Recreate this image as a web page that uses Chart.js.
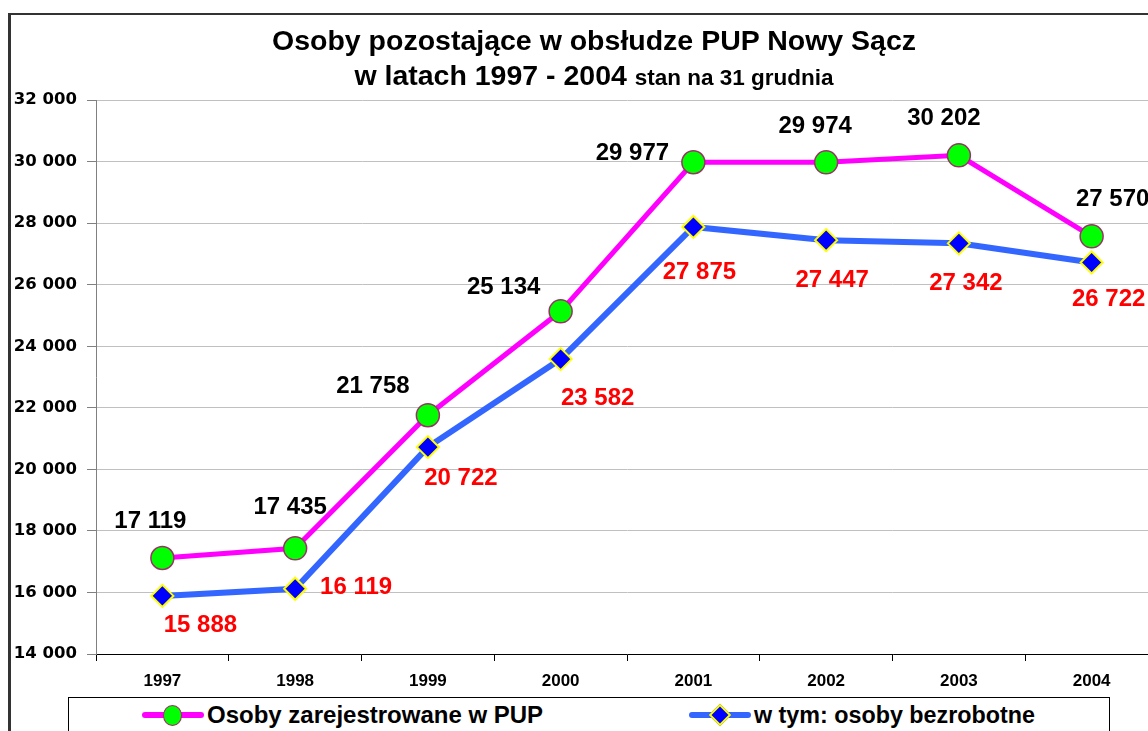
<!DOCTYPE html>
<html lang="pl">
<head>
<meta charset="utf-8">
<script src="https://cdn.jsdelivr.net/npm/chart.js@4.4.1/dist/chart.umd.min.js"></script>
<style>
  html, body { margin: 0; padding: 0; background: #fff; overflow: hidden; width: 1148px; height: 731px; }
  body { position: relative; font-family: "Liberation Sans", Arial, sans-serif; }
  #frame { position: absolute; left: 8px; top: 13px; width: 1300px; height: 900px; border-left: 3px solid #333; border-top: 2px solid #333; }
  #wrap { position: absolute; left: 0; top: 0; width: 1180px; height: 731px; }
  .title { position: absolute; left: 594px; transform: translateX(-50%); white-space: nowrap; font-weight: bold; color: #000; }
  #t1 { top: 24px; font-size: 28.5px; }
  #t2 { top: 59px; font-size: 28.5px; }
  #t2 small { font-size: 22.5px; }
  #legend { position: absolute; left: 68px; top: 697px; width: 1040px; height: 60px; border: 1px solid #000; background: #fff; }
  .item { position: absolute; top: 2px; height: 30px; display: flex; align-items: center; font-weight: bold; font-size: 24px; white-space: nowrap; }
  .sw { position: relative; width: 62px; height: 30px; margin-right: 3px; }
  .sw .ln { position: absolute; left: 0; right: 0; top: 12px; height: 6px; border-radius: 3px; }
  .sw .mk { position: absolute; }
</style>
</head>
<body>
<div id="frame"></div>
<div id="wrap"><canvas id="c" width="1180" height="731"></canvas></div>
<div class="title" id="t1">Osoby pozostające w obsłudze PUP Nowy Sącz</div>
<div class="title" id="t2">w latach 1997 - 2004 <small>stan na 31 grudnia</small></div>
<div id="legend">
  <div class="item" style="left:73px">
    <div class="sw"><div class="ln" style="background:#ff00ff"></div>
      <div class="mk" style="left:21px;top:5px;width:17px;height:19px;border-radius:50%;background:#00ff00;border:1.5px solid #993366"></div></div>
    <span>Osoby zarejestrowane w PUP</span>
  </div>
  <div class="item" style="left:620px; font-size:23.3px">
    <div class="sw"><div class="ln" style="background:#3366ff"></div>
      <div class="mk" style="left:23px;top:7px;width:12px;height:12px;transform:rotate(45deg);background:#0000ff;border:2px solid #ffff00"></div></div>
    <span>w tym: osoby bezrobotne</span>
  </div>
</div>
<script>
// dane z wykresu
const years = ["1997", "1998", "1999", "2000", "2001", "2002", "2003", "2004"];
const registered = [17119, 17435, 21758, 25134, 29977, 29974, 30202, 27570];
const unemployed = [15888, 16119, 20722, 23582, 27875, 27447, 27342, 26722];

// położenie etykiet względem punktu (px)
const regOffsets = [[-12, -37], [-5, -41], [-55, -29], [-57, -24], [-61, -9], [-11, -36], [-15, -37], [21, -37]];
const unOffsets = [[38, 29], [61, -1], [33, 31], [37, 39], [6, 45], [6, 40], [7, 40], [17, 37]];

const fmt = (v) => String(v).replace(/\B(?=(\d{3})+(?!\d))/g, " ");

const valueLabels = {
  id: "valueLabels",
  afterDatasetsDraw(chart) {
    const ctx = chart.ctx;
    ctx.save();
    ctx.font = "bold 24px 'Liberation Sans', Arial, sans-serif";
    ctx.textAlign = "center";
    ctx.textBaseline = "middle";
    chart.data.datasets.forEach((ds, i) => {
      const offs = i === 0 ? regOffsets : unOffsets;
      ctx.fillStyle = i === 0 ? "#000" : "#ff0000";
      chart.getDatasetMeta(i).data.forEach((pt, j) => {
        ctx.fillText(fmt(ds.data[j]), pt.x + offs[j][0], pt.y + offs[j][1]);
      });
    });
    ctx.restore();
  },
};

new Chart(document.getElementById("c"), {
  type: "line",
  data: {
    labels: years,
    datasets: [
      {
        label: "Osoby zarejestrowane w PUP",
        data: registered,
        borderColor: "#ff00ff",
        borderWidth: 5,
        pointStyle: "circle",
        pointRadius: 11.5,
        pointBackgroundColor: "#00ff00",
        pointBorderColor: "#993366",
        pointBorderWidth: 1.5,
        tension: 0,
      },
      {
        label: "w tym: osoby bezrobotne",
        data: unemployed,
        borderColor: "#3366ff",
        borderWidth: 6,
        pointStyle: "rectRot",
        pointRadius: 11,
        pointBackgroundColor: "#0000ff",
        pointBorderColor: "#ffff00",
        pointBorderWidth: 2,
        tension: 0,
      },
    ],
  },
  options: {
    responsive: false,
    animation: false,
    events: [],
    layout: { padding: { top: 100, right: 22, bottom: 0, left: 0 } },
    plugins: { legend: { display: false }, title: { display: false }, tooltip: { enabled: false } },
    scales: {
      x: {
        offset: true,
        grid: { offset: true, drawOnChartArea: false, tickLength: 7, color: "#000" },
        border: { color: "#000", width: 1 },
        ticks: { color: "#000", font: { family: "'Liberation Sans', Arial", size: 17, weight: "bold" }, padding: 10 },
        afterFit: (s) => { s.height = 77; },
      },
      y: {
        min: 14000,
        max: 32000,
        grid: { color: "#c0c0c0", tickLength: 9, tickColor: "#808080" },
        border: { color: "#808080", width: 1 },
        ticks: {
          stepSize: 2000,
          color: "#000",
          padding: 10,
          font: { family: "'DejaVu Sans'", size: 16.5, weight: "bold" },
          callback: (v) => fmt(v),
        },
        afterFit: (s) => { s.width = 96; },
      },
    },
  },
  plugins: [valueLabels],
});
</script>
</body>
</html>
